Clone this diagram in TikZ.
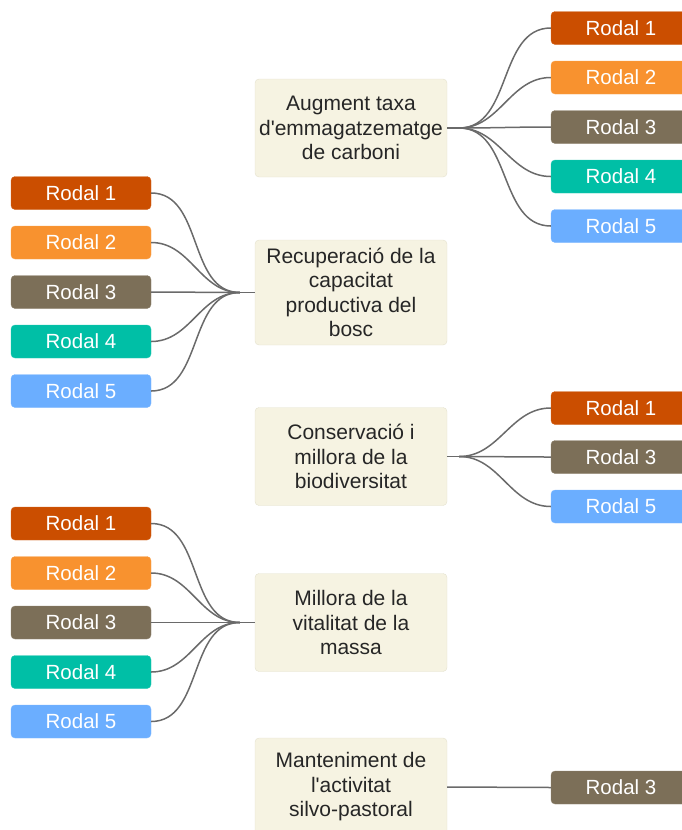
\documentclass[tikz,border=0pt]{standalone}
\usepackage{fontspec}
\setmainfont{Liberation Sans}
\usetikzlibrary{positioning}
\definecolor{rodalA}{HTML}{CB4E00}
\definecolor{rodalB}{HTML}{F8922F}
\definecolor{rodalC}{HTML}{7C6F58}
\definecolor{rodalD}{HTML}{00BFA6}
\definecolor{rodalE}{HTML}{6BAEFF}
\definecolor{cream}{HTML}{F6F3E2}
\definecolor{creamline}{HTML}{E4E1CE}
\definecolor{wire}{HTML}{6A6A6A}

\begin{document}
\begin{tikzpicture}[x=1pt,y=-1pt,
   rodal/.style={fill=#1,draw=#1!85!white,rounded corners=4pt,text=white,inner sep=0pt,
     font=\fontsize{20.5}{24}\selectfont,minimum width=140pt,minimum height=33pt},
   goal/.style={fill=cream,draw=creamline,rounded corners=4pt,align=center,text=black!85,
     font=\fontsize{21}{24.5}\selectfont,minimum width=192pt,minimum height=98pt,inner sep=2pt},
   wirestyle/.style={draw=wire,line width=1.5pt}]
  \useasboundingbox (0,0) rectangle (681,830);

  % objectives in the middle column
  \node[goal] (carboni) at (351,128) {Augment taxa\\d\textquotesingle emmagatzematge\\de carboni};
  \node[goal,minimum height=105pt] (recup) at (351,292.5) {Recuperació de la\\capacitat\\productiva del\\bosc};
  \node[goal] (biodiv) at (351,456.5) {Conservació i\\millora de la\\biodiversitat};
  \node[goal] (vitalitat) at (351,622.5) {Millora de la\\vitalitat de la\\massa};
  \node[goal] (pastoral) at (351,787) {Manteniment de\\l\textquotesingle activitat\\silvo-pastoral};

  % junction points next to each objective
  \coordinate (carboni-j) at ([xshift=12pt]carboni.east);
  \coordinate (recup-j) at ([xshift=-15pt]recup.west);
  \coordinate (biodiv-j) at ([xshift=12pt]biodiv.east);
  \coordinate (vitalitat-j) at ([xshift=-15pt]vitalitat.west);
  \draw[wirestyle] (carboni.east) -- (carboni-j);
  \draw[wirestyle] (recup.west) -- (recup-j);
  \draw[wirestyle] (biodiv.east) -- (biodiv-j);
  \draw[wirestyle] (vitalitat.west) -- (vitalitat-j);

  % carboni: rodals 1-5 on the right
  \foreach \i/\col/\y in {1/rodalA/28,2/rodalB/77.5,3/rodalC/127,4/rodalD/176.5,5/rodalE/226}{
    \node[rodal=\col] (c\i) at (621,\y) {Rodal \i};
    \draw[wirestyle] (carboni-j) to[out=0,in=180] (c\i.west);
  }

  % recuperacio: rodals 1-5 on the left
  \foreach \i/\col/\y in {1/rodalA/193,2/rodalB/242.5,3/rodalC/292,4/rodalD/341.5,5/rodalE/391}{
    \node[rodal=\col] (r\i) at (81,\y) {Rodal \i};
    \draw[wirestyle] (r\i.east) to[out=0,in=180] (recup-j);
  }

  % biodiversitat: rodals 1, 3, 5
  \foreach \i/\col/\y in {1/rodalA/408,3/rodalC/457,5/rodalE/506.5}{
    \node[rodal=\col] (b\i) at (621,\y) {Rodal \i};
    \draw[wirestyle] (biodiv-j) to[out=0,in=180] (b\i.west);
  }

  % vitalitat: rodals 1-5 on the left
  \foreach \i/\col/\y in {1/rodalA/523.5,2/rodalB/573,3/rodalC/622.5,4/rodalD/672,5/rodalE/721.5}{
    \node[rodal=\col] (v\i) at (81,\y) {Rodal \i};
    \draw[wirestyle] (v\i.east) to[out=0,in=180] (vitalitat-j);
  }

  % silvo-pastoral: only rodal 3
  \node[rodal=rodalC] (p3) at (621,787.5) {Rodal 3};
  \draw[wirestyle] (pastoral.east) -- (p3.west);
\end{tikzpicture}
\end{document}
